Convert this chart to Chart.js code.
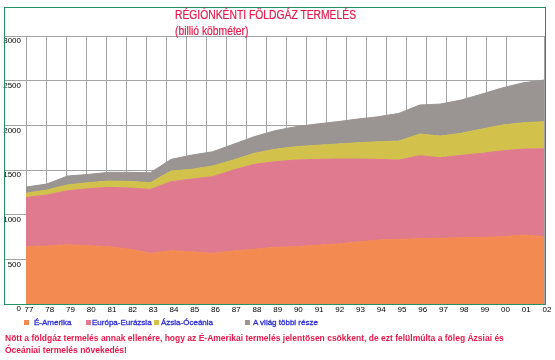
<!DOCTYPE html>
<html>
<head>
<meta charset="utf-8">
<script src="https://cdn.jsdelivr.net/npm/chart.js@4.4.0/dist/chart.umd.min.js"></script>
<style>
  body { margin: 0; background: #fff; font-family: "Liberation Sans", Arial, sans-serif; }
  #wrap { position: relative; width: 555px; height: 360px; }
  #myCanvas { position: absolute; left: 0; top: 0; }
  #frame { position: absolute; left: 4px; top: 7px; width: 540px; height: 296px; border: 1px solid #239065; pointer-events: none; }
  #title { position: absolute; left: 175px; top: 7px; color: #e8184a; font-size: 12px; line-height: 16px; white-space: nowrap; transform: scaleX(0.86); transform-origin: 0 0; -webkit-text-stroke: 0.2px #e8184a; }
  .leg { position: absolute; top: 318px; font-size: 8px; line-height: 10px; color: #2c2cd8; white-space: nowrap; -webkit-text-stroke: 0.3px #2c2cd8; }
  .sq { position: absolute; top: 320px; width: 5px; height: 5px; }
  #note { position: absolute; left: 5px; top: 332px; color: #e8184a; font-size: 8.5px; font-weight: bold; line-height: 12px; white-space: nowrap; }
</style>
</head>
<body>
<div id="wrap">
  <canvas id="myCanvas" width="555" height="360"></canvas>
  <div id="frame"></div>
  <div id="title">RÉGIÓNKÉNTI FÖLDGÁZ TERMELÉS<br>(billió köbméter)</div>
  <div class="sq" style="left:24px;background:#f28a52"></div><div class="leg" style="left:34px">É-Amerika</div>
  <div class="sq" style="left:86px;background:#e07a8e"></div><div class="leg" style="left:92px">Európa-Eurázsia</div>
  <div class="sq" style="left:154px;background:#d2c24c"></div><div class="leg" style="left:161px">Ázsia-Óceánia</div>
  <div class="sq" style="left:245px;background:#9a9593"></div><div class="leg" style="left:253px">A világ többi része</div>
  <div id="note">Nött a földgáz termelés annak ellenére, hogy az É-Amerikai termelés jelentösen csökkent, de ezt felülmúlta a föleg Ázsiai és<br>Óceániai termelés növekedés!</div>
</div>
<script>
// years 1977-2002, billion m3
var years = ['77','78','79','80','81','82','83','84','85','86','87','88','89','90','91','92','93','94','95','96','97','98','99','00','01','02'];
var eAmerika = [641,649,664,652,641,612,567,597,585,567,593,612,634,641,657,671,694,716,724,731,735,742,746,753,772,753];
var europa   = [551,571,604,638,665,686,716,772,814,858,906,951,958,970,962,952,929,903,887,929,902,922,940,962,962,985];
var azsia    = [47,56,64,67,70,75,74,119,108,119,112,123,139,149,157,167,182,197,213,242,243,246,272,288,295,302];
var vilag    = [70,67,100,94,98,101,112,131,160,160,176,186,208,224,238,250,265,280,310,325,358,373,392,417,447,467];

var yMax = 3000;
var yStep = 500;

var font = { family: 'Liberation Sans', size: 8 };
var gridColor = '#a3a3a3';

function layer(label, data, color, fill) {
    return {
        label: label,
        data: data,
        backgroundColor: color,
        borderColor: color,
        borderWidth: 1,
        pointRadius: 0,
        tension: 0,
        fill: fill
    };
}

var ctx = document.getElementById('myCanvas');
var chart = new Chart(ctx, {
    type: 'line',
    data: {
        labels: years,
        datasets: [
            layer('É-Amerika', eAmerika, '#f28a52', 'origin'),
            layer('Európa-Eurázsia', europa, '#e07a8e', '-1'),
            layer('Ázsia-Óceánia', azsia, '#d2c24c', '-1'),
            layer('A világ többi része', vilag, '#9a9593', '-1')
        ]
    },
    options: {
        responsive: false,
        animation: false,
        layout: { padding: { left: 0, right: 11, top: 36, bottom: 0 } },
        plugins: { legend: { display: false }, title: { display: false }, tooltip: { enabled: false } },
        scales: {
            x: {
                type: 'category',
                offset: false,
                grid: { display: false, drawTicks: false },
                border: { display: false },
                ticks: { color: '#000', font: font, labelOffset: 3, padding: 1, maxRotation: 0, autoSkip: false },
                afterFit: function (s) { s.height = 56; }
            },
            xg: {
                axis: 'x',
                type: 'linear',
                position: 'bottom',
                min: 0,
                max: 25.9,
                ticks: { display: false, stepSize: 1 },
                grid: { color: gridColor, drawTicks: false },
                border: { display: false },
                afterFit: function (s) { s.height = 0; }
            },
            y: {
                stacked: true,
                min: 0,
                max: yMax,
                ticks: {
                    stepSize: yStep, color: '#000', font: font, labelOffset: 5, padding: -16,
                    callback: function (v) { return String(v); }
                },
                grid: { color: gridColor, tickLength: 21 },
                border: { display: false },
                afterFit: function (s) { s.width = 26; }
            }
        }
    }
});
</script>
</body>
</html>
